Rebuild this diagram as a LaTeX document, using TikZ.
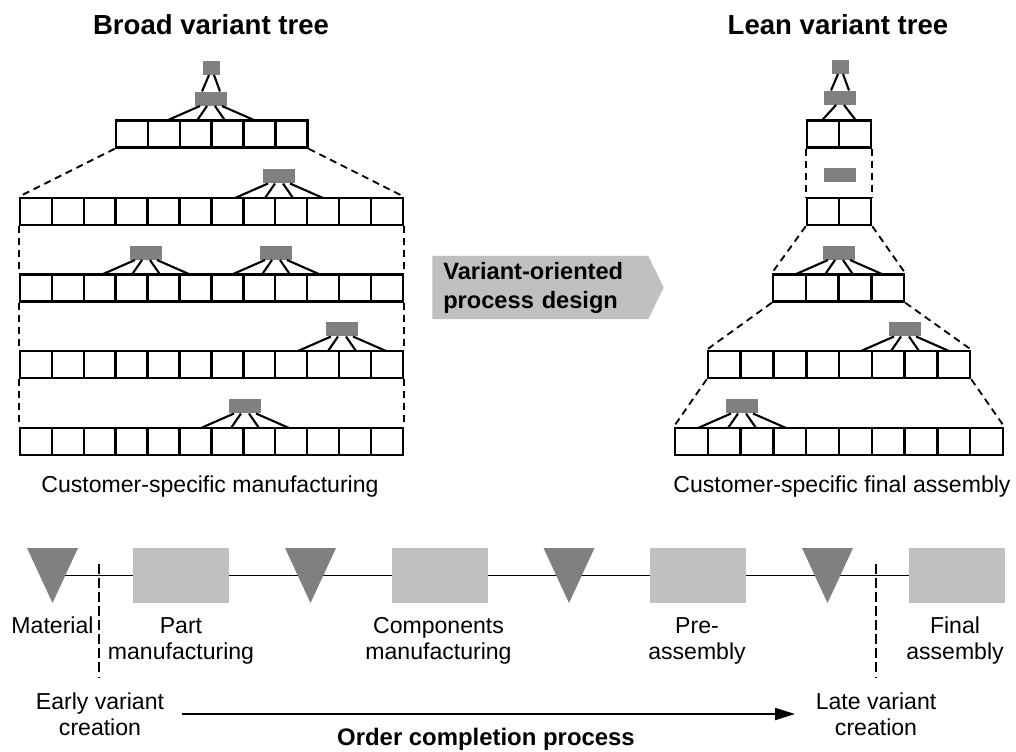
\documentclass[tikz,border=0pt]{standalone}
\usepackage{fontspec}
\setmainfont{Liberation Sans}
\usetikzlibrary{calc, positioning, shapes.symbols, arrows.meta, backgrounds}

\definecolor{varfill}{HTML}{808080}
\definecolor{stepfill}{HTML}{C0C0C0}

% one row of variant cells: name, left x, top y, number of cells, cell width
\newcommand{\cellrow}[5]{%
  \foreach \i in {1,...,#4}
    \node[cell, minimum width=#5*0.025cm] (#1-\i) at ({#2+(\i-0.5)*#5}, {#3+13.5}) {};
}
% four branches from a variant down to the row below it
\newcommand{\fan}[1]{%
  \foreach \sx/\ex in {-11/-44, -4/-14, 4/14, 11/44}
    \draw[branch] ($(#1.south)+(\sx,0)$) -- ($(#1.south)+(\ex,14.5)$);
}

\begin{document}
\begin{tikzpicture}[x=0.025cm, y=-0.025cm, >={Triangle[length=5mm,width=3mm]},
    cell/.style={draw, line width=1.8pt, minimum height=0.675cm, inner sep=0pt},
    var/.style={fill=varfill, minimum width=0.8cm, minimum height=0.35cm, inner sep=0pt, anchor=south},
    branch/.style={line width=1.5pt},
    link/.style={dash pattern=on 5pt off 3.5pt, line width=1.3pt},
    cut/.style={dash pattern=on 7pt off 3pt, line width=1pt},
    heading/.style={font=\fontsize{19.6}{23}\selectfont\bfseries, anchor=base, inner sep=0pt},
    txt/.style={font=\fontsize{16.4}{18.5}\selectfont, align=center, anchor=base, inner sep=0pt},
    design/.style={signal, signal to=east, signal pointer angle=128, fill=stepfill,
      text width=4.85cm, inner xsep=0.275cm, minimum height=1.575cm, align=left,
      font=\fontsize{16.8}{20.6}\selectfont\bfseries, anchor=west},
    stepbox/.style={fill=stepfill, minimum width=2.4cm, minimum height=1.375cm, inner sep=0pt}]

  \useasboundingbox (0,0) rectangle (1016,751);

  % broad tree
  \node[heading] (bt) at (211,34.5) {Broad variant tree};
  \node[var, minimum width=0.425cm] (b0) at (211.5,75) {};
  \node[var] (bv) at (211,106) {};
  \draw[branch] ($(b0.south)+(-2.5,0)$) -- ($(bv.north)+(-9,0)$);
  \draw[branch] ($(b0.south)+(2.5,0)$) -- ($(bv.north)+(9,0)$);
  \cellrow{ba}{116}{120.5}{6}{31.9}
  \fan{bv}
  \cellrow{b1}{20}{198}{12}{31.9}
  \node[var] (v1) at (279,183.5) {};
  \fan{v1}
  \cellrow{b2}{20}{274.5}{12}{31.9}
  \node[var] (v2) at (146,260) {};
  \node[var] (v3) at (276,260) {};
  \fan{v2} \fan{v3}
  \cellrow{b3}{20}{351}{12}{31.9}
  \node[var] (v4) at (342,336.5) {};
  \fan{v4}
  \cellrow{b4}{20}{428}{12}{31.9}
  \node[var] (v5) at (245,413.5) {};
  \fan{v5}
  \draw[link] (ba-1.south west) -- (b1-1.north west);
  \draw[link] (ba-6.south east) -- (b1-12.north east);
  \foreach \r/\s in {b1/b2, b2/b3, b3/b4} {
    \draw[link] (\r-1.south west) -- (\s-1.north west);
    \draw[link] (\r-12.south east) -- (\s-12.north east);
  }
  \node[txt] (bl) at (210,492) {Customer-specific manufacturing};

  % lean tree
  \node[heading] (lt) at (838,34.5) {Lean variant tree};
  \node[var, minimum width=0.425cm] (l0) at (840.5,74) {};
  \node[var] (lv) at (840,105) {};
  \draw[branch] ($(l0.south)+(-2.5,0)$) -- ($(lv.north)+(-9,0)$);
  \draw[branch] ($(l0.south)+(2.5,0)$) -- ($(lv.north)+(9,0)$);
  \cellrow{la}{807}{120.5}{2}{32}
  \draw[branch] ($(lv.south)+(-4,0)$) -- (la-1.north);
  \draw[branch] ($(lv.south)+(4,0)$) -- (la-2.north);
  \node[var] (lw) at (840,182) {};
  \cellrow{lb}{807}{198}{2}{32}
  \draw[link] (la-1.south west) -- (lb-1.north west);
  \draw[link] (la-2.south east) -- (lb-2.north east);
  \cellrow{l3}{773}{274.5}{4}{32.75}
  \node[var] (w1) at (839,260) {};
  \fan{w1}
  \cellrow{l4}{708}{351}{8}{32.75}
  \node[var] (w2) at (905,336.5) {};
  \fan{w2}
  \cellrow{l5}{675}{428}{10}{32.8}
  \node[var] (w3) at (742,413.5) {};
  \fan{w3}
  \draw[link] (lb-1.south west) -- (l3-1.north west);
  \draw[link] (lb-2.south east) -- (l3-4.north east);
  \draw[link] (l3-1.south west) -- (l4-1.north west);
  \draw[link] (l3-4.south east) -- (l4-8.north east);
  \draw[link] (l4-1.south west) -- (l5-1.north west);
  \draw[link] (l4-8.south east) -- (l5-10.north east);
  \node[txt] (ll) at (842,492) {Customer-specific final assembly};

  \node[design] (pd) at (432,287.5) {Variant-oriented\\process design};

  % process chain
  \foreach \x [count=\k] in {52.5, 310.5, 569, 827.5} {
    \coordinate (m\k) at (\x,575.5);
    \fill[varfill] ($(m\k)+(-25.5,-27.5)$) -- ++(51,0) -- ($(m\k)+(0,27.5)$) -- cycle;
  }
  \foreach \x [count=\k] in {181, 440, 698, 957}
    \node[stepbox] (s\k) at (\x,575.5) {};
  \begin{scope}[on background layer]
    \draw[line width=1.2pt] (m1) -- (s4);
  \end{scope}

  % base anchor of a two-line label sits on its second line
  \node[txt] (t1) at (52.5,633) {Material};
  \node[txt] (t2) at (181,659) {Part\\manufacturing};
  \node[txt] (t3) at (438.5,659) {Components\\manufacturing};
  \node[txt] (t4) at (697,659) {Pre-\\assembly};
  \node[txt] (t5) at (955,659) {Final\\assembly};

  \draw[cut] (99,564) -- (99,678);
  \draw[cut] (876,564) -- (876,678);
  \node[txt] (early) at (100,735) {Early variant\\creation};
  \node[txt] (late) at (876,735) {Late variant\\creation};

  \coordinate (o1) at (182,714);
  \coordinate (o2) at (795,714);
  \draw[->, line width=1.4pt] (o1) -- (o2);
  \node[txt, font=\fontsize{17}{20}\selectfont\bfseries] (oc) at (486,745) {Order completion process};
\end{tikzpicture}
\end{document}
